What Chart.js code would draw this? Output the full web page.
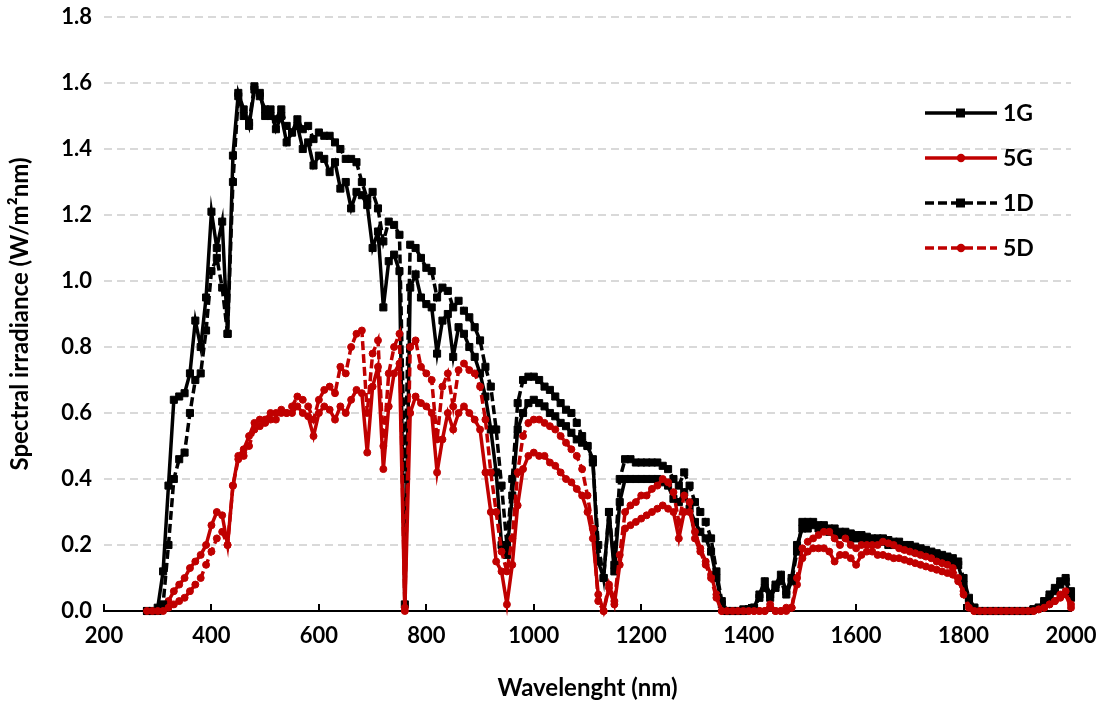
<!DOCTYPE html>
<html>
<head>
<meta charset="utf-8">
<script src="https://cdn.jsdelivr.net/npm/chart.js@4.4.1/dist/chart.umd.min.js"></script>
<style>
  html, body { margin: 0; padding: 0; background: #fff; }
  #wrap { width: 1105px; height: 706px; }
</style>
</head>
<body>
<div id="wrap"><canvas id="chart" width="1105" height="706"></canvas></div>
<script>
// wavelength grid (nm), one row = 100 nm
const wavelength = [
  280, 290, 300, 310, 320, 330, 340, 350, 360, 370,
  380, 390, 400, 410, 420, 430, 440, 450, 460, 470,
  480, 490, 500, 510, 520, 530, 540, 550, 560, 570,
  580, 590, 600, 610, 620, 630, 640, 650, 660, 670,
  680, 690, 700, 710, 720, 730, 740, 750, 760, 770,
  780, 790, 800, 810, 820, 830, 840, 850, 860, 870,
  880, 890, 900, 910, 920, 930, 940, 950, 960, 970,
  980, 990, 1000, 1010, 1020, 1030, 1040, 1050, 1060, 1070,
  1080, 1090, 1100, 1110, 1120, 1130, 1140, 1150, 1160, 1170,
  1180, 1190, 1200, 1210, 1220, 1230, 1240, 1250, 1260, 1270,
  1280, 1290, 1300, 1310, 1320, 1330, 1340, 1350, 1360, 1370,
  1380, 1390, 1400, 1410, 1420, 1430, 1440, 1450, 1460, 1470,
  1480, 1490, 1500, 1510, 1520, 1530, 1540, 1550, 1560, 1570,
  1580, 1590, 1600, 1610, 1620, 1630, 1640, 1650, 1660, 1670,
  1680, 1690, 1700, 1710, 1720, 1730, 1740, 1750, 1760, 1770,
  1780, 1790, 1800, 1810, 1820, 1830, 1840, 1850, 1860, 1870,
  1880, 1890, 1900, 1910, 1920, 1930, 1940, 1950, 1960, 1970,
  1980, 1990, 2000
];

const irr1G = [
  0, 0, 0.01, 0.12, 0.38, 0.64, 0.65, 0.66, 0.72, 0.88,
  0.8, 0.95, 1.21, 1.1, 1.18, 0.84, 1.38, 1.57, 1.52, 1.47,
  1.58, 1.57, 1.5, 1.52, 1.46, 1.5, 1.42, 1.45, 1.47, 1.4,
  1.42, 1.35, 1.38, 1.37, 1.33, 1.36, 1.28, 1.3, 1.22, 1.27,
  1.26, 1.23, 1.1, 1.15, 0.92, 1.06, 1.08, 1.03, 0.02, 0.98,
  1.02, 0.95, 0.93, 0.92, 0.78, 0.88, 0.9, 0.77, 0.86, 0.84,
  0.8, 0.77, 0.72, 0.65, 0.55, 0.42, 0.2, 0.17, 0.35, 0.55,
  0.6, 0.63, 0.64, 0.63, 0.62, 0.6, 0.59, 0.57, 0.56, 0.54,
  0.52, 0.51, 0.5, 0.46, 0.15, 0.1, 0.3, 0.12, 0.33, 0.4,
  0.4, 0.4, 0.4, 0.4, 0.4, 0.4, 0.39, 0.38, 0.34, 0.33,
  0.36, 0.31, 0.27, 0.24, 0.22, 0.18, 0.1, 0.02, 0, 0,
  0, 0.005, 0.005, 0.01, 0.05, 0.09, 0.05, 0.08, 0.11, 0.06,
  0.1, 0.2, 0.25, 0.25, 0.26, 0.25, 0.25, 0.24, 0.24, 0.23,
  0.23, 0.22, 0.22, 0.22, 0.21, 0.21, 0.21, 0.21, 0.2, 0.2,
  0.2, 0.19, 0.19, 0.18, 0.18, 0.17, 0.17, 0.16, 0.16, 0.15,
  0.15, 0.14, 0.08, 0.03, 0.01, 0, 0, 0, 0, 0,
  0, 0, 0, 0, 0, 0.005, 0.01, 0.02, 0.04, 0.06,
  0.08, 0.09, 0.04
];

const irr5G = [
  0, 0, 0, 0.01, 0.03, 0.06, 0.08, 0.1, 0.13, 0.15,
  0.17, 0.2, 0.26, 0.3, 0.29, 0.2, 0.38, 0.47, 0.49, 0.53,
  0.57, 0.58, 0.58, 0.6, 0.6, 0.61, 0.6, 0.6, 0.62, 0.6,
  0.59, 0.53, 0.6, 0.62, 0.61, 0.58, 0.62, 0.6, 0.64, 0.67,
  0.66, 0.48, 0.68, 0.74, 0.43, 0.62, 0.72, 0.75, 0, 0.6,
  0.65, 0.63, 0.62, 0.6, 0.42, 0.52, 0.6, 0.55, 0.6, 0.62,
  0.6, 0.58, 0.55, 0.42, 0.3, 0.15, 0.12, 0.02, 0.14, 0.32,
  0.43, 0.47, 0.48, 0.47, 0.47, 0.45, 0.44, 0.42, 0.4, 0.39,
  0.37, 0.35, 0.3, 0.22, 0.05, 0, 0.07, 0.02, 0.14, 0.25,
  0.26, 0.27, 0.28, 0.29, 0.3, 0.31, 0.32, 0.31, 0.3, 0.22,
  0.3, 0.3, 0.24, 0.19, 0.15, 0.11, 0.05, 0, 0, 0,
  0, 0, 0, 0, 0, 0, 0.01, 0, 0, 0.01,
  0.01, 0.08, 0.16, 0.18, 0.19, 0.19, 0.19, 0.18, 0.15, 0.17,
  0.17, 0.16, 0.14, 0.17, 0.18, 0.18, 0.17, 0.17, 0.165, 0.16,
  0.16, 0.155, 0.15, 0.145, 0.14, 0.135, 0.13, 0.125, 0.12, 0.115,
  0.11, 0.09, 0.06, 0.02, 0, 0, 0, 0, 0, 0,
  0, 0, 0, 0, 0, 0, 0.005, 0.01, 0.02, 0.03,
  0.04, 0.05, 0.01
];

const irr1D = [
  0, 0, 0, 0.02, 0.2, 0.4, 0.46, 0.48, 0.6, 0.7,
  0.72, 0.85, 1.03, 1.07, 0.98, 0.84, 1.3, 1.56, 1.5, 1.48,
  1.59, 1.56, 1.52, 1.5, 1.49, 1.52, 1.47, 1.45, 1.49, 1.46,
  1.47, 1.43, 1.45, 1.44, 1.44, 1.42, 1.4, 1.37, 1.37, 1.36,
  1.3, 1.25, 1.27, 1.22, 1.12, 1.18, 1.17, 1.14, 0.4, 1.11,
  1.1, 1.07, 1.04, 1.03, 0.95, 0.98, 0.97, 0.92, 0.94, 0.91,
  0.89, 0.86, 0.82, 0.74, 0.68, 0.55, 0.38, 0.2, 0.4, 0.63,
  0.7, 0.71, 0.71, 0.7, 0.68, 0.67, 0.65, 0.63, 0.61, 0.6,
  0.57, 0.53, 0.5, 0.45, 0.2, 0.1, 0.3, 0.14, 0.4, 0.46,
  0.46, 0.45, 0.45, 0.45, 0.45, 0.45, 0.44, 0.43, 0.4, 0.38,
  0.42, 0.38, 0.33, 0.3, 0.27, 0.22, 0.12, 0.03, 0, 0,
  0, 0, 0.005, 0.01, 0.04, 0.07, 0.04, 0.07, 0.09, 0.05,
  0.09, 0.18, 0.27, 0.27, 0.27, 0.26, 0.26, 0.25, 0.25, 0.24,
  0.24, 0.235, 0.23, 0.23, 0.225, 0.22, 0.22, 0.22, 0.215, 0.21,
  0.21, 0.2, 0.2, 0.195, 0.19, 0.185, 0.18, 0.175, 0.17, 0.165,
  0.16, 0.15, 0.1, 0.04, 0.01, 0, 0, 0, 0, 0,
  0, 0, 0, 0, 0, 0.005, 0.01, 0.03, 0.05, 0.07,
  0.09, 0.1, 0.06
];

const irr5D = [
  0, 0, 0, 0, 0.01, 0.02, 0.03, 0.04, 0.06, 0.08,
  0.1, 0.14, 0.18, 0.22, 0.24, 0.2, 0.38, 0.46, 0.47, 0.5,
  0.55, 0.56, 0.57, 0.58, 0.58, 0.6, 0.6, 0.62, 0.65, 0.64,
  0.62, 0.58, 0.64, 0.67, 0.68, 0.66, 0.74, 0.72, 0.8, 0.84,
  0.85, 0.6, 0.78, 0.82, 0.5, 0.72, 0.8, 0.84, 0.01, 0.8,
  0.82, 0.74, 0.72, 0.7, 0.52, 0.68, 0.72, 0.62, 0.73, 0.75,
  0.73, 0.72, 0.68, 0.58, 0.42, 0.3, 0.18, 0.12, 0.22, 0.42,
  0.53, 0.57, 0.58, 0.58, 0.57, 0.56, 0.55, 0.53, 0.51, 0.49,
  0.47, 0.43, 0.35, 0.25, 0.03, 0, 0.08, 0.03, 0.17, 0.3,
  0.32, 0.33, 0.35, 0.35, 0.37, 0.38, 0.4, 0.39, 0.36, 0.27,
  0.35, 0.33, 0.22, 0.18, 0.14, 0.1, 0.04, 0, 0, 0,
  0, 0, 0, 0, 0, 0, 0.02, 0, 0, 0,
  0.01, 0.1, 0.19, 0.21, 0.22, 0.23, 0.24, 0.24, 0.22, 0.2,
  0.22, 0.2, 0.19, 0.2, 0.2, 0.2, 0.2, 0.21, 0.205, 0.2,
  0.19, 0.185, 0.18, 0.175, 0.17, 0.165, 0.16, 0.15, 0.145, 0.14,
  0.13, 0.1, 0.05, 0.01, 0, 0, 0, 0, 0, 0,
  0, 0, 0, 0, 0, 0, 0.005, 0.01, 0.02, 0.03,
  0.05, 0.06, 0.02
];

const BLACK = "#000000";
const RED = "#C00000";
const FONT = "Lato, 'Open Sans', sans-serif";

function points(values) {
  return wavelength.map((w, i) => ({ x: w, y: values[i] }));
}

function series(label, values, color, dashed, marker, order) {
  return {
    label,
    data: points(values),
    borderColor: color,
    backgroundColor: color,
    borderWidth: 3.5,
    borderDash: dashed ? [9, 4] : [],
    pointStyle: marker,
    pointRadius: marker === "rect" ? 5 : 3.5,
    pointBorderWidth: 1,
    pointBackgroundColor: color,
    pointBorderColor: color,
    tension: 0,
    clip: false,
    order
  };
}

// x-axis ticks drawn inward, as in the source
const innerTicks = {
  id: "innerTicks",
  beforeDatasetsDraw(chart) {
    const { ctx, chartArea } = chart;
    const x = chart.scales.x;
    ctx.save();
    ctx.strokeStyle = BLACK;
    ctx.lineWidth = 2;
    x.ticks.forEach(t => {
      const px = Math.round(x.getPixelForValue(t.value));
      ctx.beginPath();
      ctx.moveTo(px, chartArea.bottom);
      ctx.lineTo(px, chartArea.bottom - 7);
      ctx.stroke();
    });
    ctx.restore();
  }
};

// legend sits inside the plot, top right
const insideLegend = {
  id: "insideLegend",
  afterDraw(chart) {
    const { ctx } = chart;
    const rows = [113, 158, 203, 248];
    ctx.save();
    chart.data.datasets.forEach((ds, i) => {
      const y = rows[i];
      ctx.strokeStyle = ds.borderColor;
      ctx.lineWidth = 3.5;
      ctx.setLineDash(ds.borderDash);
      ctx.beginPath();
      ctx.moveTo(925, y);
      ctx.lineTo(997, y);
      ctx.stroke();
      ctx.setLineDash([]);
      ctx.fillStyle = ds.borderColor;
      if (ds.pointStyle === "rect") {
        ctx.fillRect(956, y - 4.5, 9, 9);
      } else {
        ctx.beginPath();
        ctx.arc(961, y, 4.2, 0, Math.PI * 2);
        ctx.fill();
      }
      ctx.fillStyle = BLACK;
      ctx.font = `bold 23px ${FONT}`;
      ctx.textBaseline = "middle";
      ctx.textAlign = "left";
      ctx.fillText(ds.label, 1003, y + 1);
    });
    ctx.restore();
  }
};

Chart.defaults.color = BLACK;
Chart.defaults.font.family = FONT;

new Chart(document.getElementById("chart").getContext("2d"), {
  type: "line",
  data: {
    datasets: [
      series("1G", irr1G, BLACK, false, "rect", 4),
      series("5G", irr5G, RED, false, "circle", 3),
      series("1D", irr1D, BLACK, true, "rect", 2),
      series("5D", irr5D, RED, true, "circle", 1)
    ]
  },
  options: {
    responsive: false,
    animation: false,
    devicePixelRatio: 1,
    layout: { padding: { left: 0, right: 34, top: 17, bottom: 0 } },
    plugins: { legend: { display: false }, tooltip: { enabled: false } },
    scales: {
      x: {
        type: "linear",
        min: 200,
        max: 2000,
        afterFit(scale) {
          scale.height = 95;
          scale.paddingLeft = 0;
          scale.paddingRight = 0;
        },
        grid: { display: false, drawTicks: false },
        border: { display: true, color: BLACK, width: 2 },
        ticks: {
          stepSize: 200,
          padding: 12,
          font: { size: 22, weight: "bold" },
          callback: v => String(v)
        },
        title: {
          display: true,
          text: "Wavelenght (nm)",
          font: { size: 24, weight: "bold" },
          padding: { top: 0, bottom: 3 }
        }
      },
      y: {
        min: 0,
        max: 1.8,
        afterFit(scale) {
          scale.width = 104;
          scale.paddingTop = 0;
          scale.paddingBottom = 0;
        },
        grid: {
          drawTicks: false,
          lineWidth: 2,
          color: c => (c.tick && c.tick.value === 0 ? "rgba(0,0,0,0)" : "#d9d9d9")
        },
        border: { display: false, dash: [8, 5] },
        ticks: {
          stepSize: 0.2,
          padding: 12,
          font: { size: 22, weight: "bold" },
          callback: v => Number(v).toFixed(1)
        },
        title: {
          display: true,
          text: "Spectral irradiance (W/m²nm)",
          font: { size: 24, weight: "bold" },
          padding: { top: 6, bottom: 0 }
        }
      }
    }
  },
  plugins: [innerTicks, insideLegend]
});
</script>
</body>
</html>
